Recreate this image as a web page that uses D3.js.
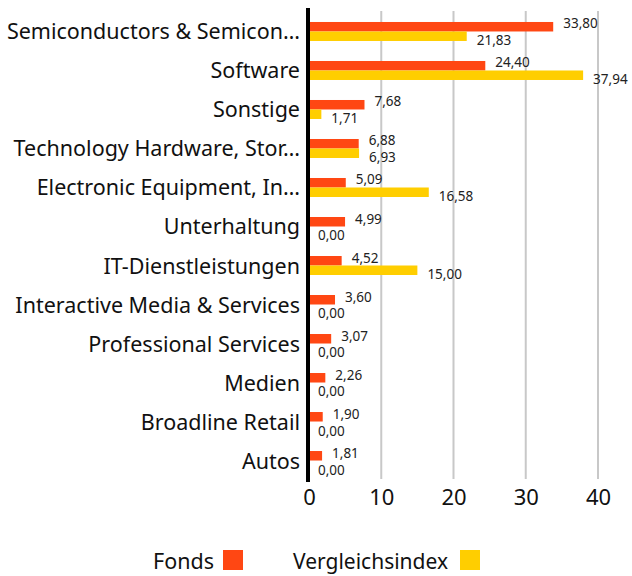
<!DOCTYPE html>
<html>
<head>
<meta charset="utf-8">
<script src="https://cdn.jsdelivr.net/npm/d3@7"></script>
<style>
  body { margin: 0; background: #fff; }
  svg { font-family: 'Noto Sans', sans-serif; }
</style>
</head>
<body>
<svg id="chart" width="632" height="576"></svg>
<script>
const categories = [
  'Semiconductors & Semicon…',
  'Software',
  'Sonstige',
  'Technology Hardware, Stor…',
  'Electronic Equipment, In…',
  'Unterhaltung',
  'IT-Dienstleistungen',
  'Interactive Media & Services',
  'Professional Services',
  'Medien',
  'Broadline Retail',
  'Autos',
];
const fonds = [33.8, 24.4, 7.68, 6.88, 5.09, 4.99, 4.52, 3.6, 3.07, 2.26, 1.9, 1.81];
const vergleichsindex = [21.83, 37.94, 1.71, 6.93, 16.58, 0, 15.0, 0, 0, 0, 0, 0];
const seriesNames = ['Fonds', 'Vergleichsindex'];
const colors = ['#ff4713', '#ffce00'];
const xTicks = [0, 10, 20, 30, 40];

const de = d3.formatLocale({ decimal: ',', thousands: '.', grouping: [3], currency: ['', '€'] });
const fmt = de.format('.2f');

const svg = d3.select('#chart');

const x = d3.scaleLinear().domain([0, 40]).range([309, 598]);
const y = d3.scaleBand().domain(categories).range([12, 480]).paddingInner(0.513).paddingOuter(0.256);
const ySub = d3.scaleBand().domain(seriesNames).range([0, y.bandwidth()]);

const rows = categories.map((c, i) => ({ cat: c, values: [fonds[i], vergleichsindex[i]] }));

// grid
svg.append('g')
  .selectAll('line')
  .data(xTicks.filter((t) => t > 0))
  .join('line')
  .attr('x1', (d) => x(d))
  .attr('x2', (d) => x(d))
  .attr('y1', 11)
  .attr('y2', 479)
  .attr('stroke', '#c8c8c8')
  .attr('stroke-width', 2);

// bars
const groups = svg.append('g')
  .selectAll('g')
  .data(rows)
  .join('g')
  .attr('transform', (d) => `translate(0,${y(d.cat)})`);

groups.selectAll('rect')
  .data((d) => d.values.map((v, k) => ({ v, k })))
  .join('rect')
  .attr('x', x(0))
  .attr('y', (d) => ySub(seriesNames[d.k]))
  .attr('width', (d) => x(d.v) - x(0))
  .attr('height', ySub.bandwidth())
  .attr('fill', (d) => colors[d.k]);

groups.selectAll('text.val')
  .data((d) => d.values.map((v, k) => ({ v, k })))
  .join('text')
  .attr('class', 'val')
  .attr('x', (d) => x(d.v) + (d.v > 0 ? 10 : 9))
  .attr('y', (d) => (d.k === 0 ? ySub(seriesNames[0]) + 6.5 : ySub(seriesNames[1]) + ySub.bandwidth() + 4.5))
  .attr('font-size', 13.5)
  .attr('fill', '#222')
  .text((d) => fmt(d.v));

// category labels
svg.append('g')
  .selectAll('text')
  .data(categories)
  .join('text')
  .attr('x', 300)
  .attr('y', (d) => y(d) + y.bandwidth() / 2 + 8)
  .attr('text-anchor', 'end')
  .attr('font-size', 21.5)
  .attr('fill', '#111')
  .text((d) => d);

// zero axis line
svg.append('line')
  .attr('x1', x(0) - 1)
  .attr('x2', x(0) - 1)
  .attr('y1', 8)
  .attr('y2', 482)
  .attr('stroke', '#000')
  .attr('stroke-width', 4);

// x axis
const xAxis = svg.append('g')
  .attr('transform', 'translate(0,489)')
  .call(d3.axisBottom(x).tickValues(xTicks).tickSize(0).tickPadding(0));
xAxis.select('.domain').remove();
xAxis.selectAll('text')
  .attr('font-size', 22)
  .attr('font-family', "'Noto Sans', sans-serif")
  .attr('fill', '#111');

// legend
const legend = svg.append('g');
const legendItems = [
  { name: 'Fonds', tx: 153, rx: 223, fs: 21.5 },
  { name: 'Vergleichsindex', tx: 293, rx: 460, fs: 21 },
];
legendItems.forEach((it, k) => {
  legend.append('text')
    .attr('x', it.tx)
    .attr('y', 569)
    .attr('font-size', it.fs)
    .attr('fill', '#111')
    .text(it.name);
  legend.append('rect')
    .attr('x', it.rx)
    .attr('y', 550)
    .attr('width', 20)
    .attr('height', 20)
    .attr('fill', colors[k]);
});
</script>
</body>
</html>
